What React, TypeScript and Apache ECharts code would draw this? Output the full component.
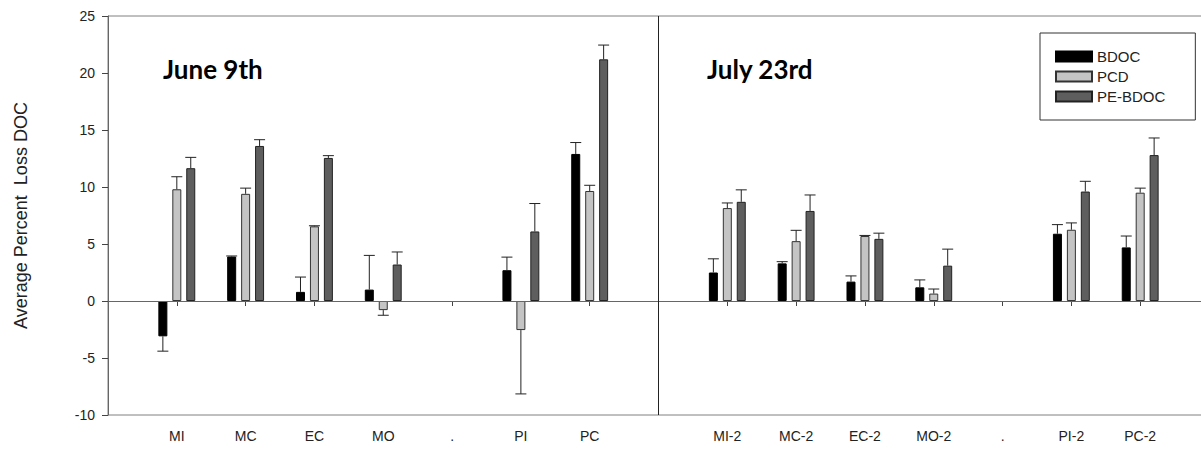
import React, { useEffect, useRef } from "react";
import * as echarts from "echarts";

// Category slots: blank slots at the left edge, the date divider and the right edge.
const categories = [
  "", "MI", "MC", "EC", "MO", ".", "PI", "PC",
  "", "MI-2", "MC-2", "EC-2", "MO-2", ".", "PI-2", "PC-2", "",
];

const seriesNames = ["BDOC", "PCD", "PE-BDOC"];

const bdoc = [null, -3.1, 3.9, 0.8, 1.0, null, 2.7, 12.9, null, 2.5, 3.3, 1.7, 1.2, null, 5.9, 4.7, null];
const bdocErr = [null, 1.3, 0.05, 1.3, 3.0, null, 1.15, 1.0, null, 1.2, 0.15, 0.5, 0.65, null, 0.8, 1.0, null];

const pcd = [null, 9.8, 9.4, 6.55, -0.8, null, -2.55, 9.65, null, 8.15, 5.25, 5.7, 0.65, null, 6.25, 9.5, null];
const pcdErr = [null, 1.1, 0.5, 0.05, 0.45, null, 5.6, 0.5, null, 0.45, 0.95, 0.05, 0.4, null, 0.6, 0.4, null];

const peBdoc = [null, 11.65, 13.6, 12.55, 3.2, null, 6.1, 21.2, null, 8.7, 7.9, 5.45, 3.1, null, 9.6, 12.8, null];
const peBdocErr = [null, 0.95, 0.55, 0.2, 1.1, null, 2.45, 1.25, null, 1.05, 1.4, 0.5, 1.45, null, 0.9, 1.5, null];

const yTicks = { min: -10, max: 25, interval: 5 };
const panelTitles = ["June 9th", "July 23rd"];
const dividerIndex = 8;

const BAR_W = 9;
const BAR_GAP = 0.55;
const fills = ["#000000", "#c4c4c4", "#5e5e5e"];
const borders = ["#000000", "#333333", "#222222"];
const FONT = "'Liberation Sans', Arial, sans-serif";

function errorSeries(values: (number | null)[], errs: (number | null)[], slot: number) {
  const data: number[][] = [];
  values.forEach((v, i) => {
    const e = errs[i];
    if (v !== null && e !== null) data.push([i, v, e]);
  });
  const step = BAR_W * (1 + BAR_GAP);
  const offset = (slot - 1) * step;
  return {
    type: "custom",
    z: 5,
    silent: true,
    encode: { x: 0, y: 1 },
    data,
    renderItem: (_params: any, api: any) => {
      const i = api.value(0);
      const v = api.value(1);
      const e = api.value(2);
      const end = v >= 0 ? v + e : v - e;
      const p0 = api.coord([i, v]);
      const p1 = api.coord([i, end]);
      const x = p0[0] + offset;
      const stroke = { stroke: "#222", lineWidth: 1 };
      return {
        type: "group",
        children: [
          { type: "line", shape: { x1: x, y1: p0[1], x2: x, y2: p1[1] }, style: stroke },
          { type: "line", shape: { x1: x - 5.5, y1: p1[1], x2: x + 5.5, y2: p1[1] }, style: stroke },
        ],
      };
    },
  };
}

// Vertical rule separating the two sampling dates, spanning the full value range.
const dividerSeries = {
  type: "custom",
  z: 6,
  silent: true,
  encode: { x: 0, y: 1 },
  data: [[dividerIndex, yTicks.min, yTicks.max]],
  renderItem: (_params: any, api: any) => {
    const i = api.value(0);
    const a = api.coord([i, api.value(1)]);
    const b = api.coord([i, api.value(2)]);
    return {
      type: "line",
      shape: { x1: a[0], y1: a[1], x2: b[0], y2: b[1] },
      style: { stroke: "#222", lineWidth: 1 },
    };
  },
};

export default function App() {
  const ref = useRef<HTMLDivElement>(null);

  useEffect(() => {
    if (!ref.current) return;
    const chart = echarts.init(ref.current, undefined, { renderer: "svg" });
    const barValues = [bdoc, pcd, peBdoc];

    const bars = seriesNames.map((name, k) => ({
      name,
      type: "bar",
      barWidth: BAR_W,
      barGap: `${BAR_GAP * 100}%`,
      itemStyle: { color: fills[k], borderColor: borders[k], borderWidth: 1 },
      data: barValues[k],
      ...(k === 0
        ? {
            markLine: {
              silent: true,
              symbol: "none",
              label: { show: false },
              animation: false,
              data: [{ yAxis: 0, lineStyle: { color: "#666", width: 1, type: "solid" } }],
            },
          }
        : {}),
    }));

    chart.setOption({
      animation: false,
      backgroundColor: "#ffffff",
      textStyle: { fontFamily: FONT },
      grid: {
        left: 108,
        top: 16,
        bottom: 34,
        right: 6,
        show: true,
        borderColor: "#808080",
        borderWidth: 1,
        containLabel: false,
      },
      legend: {
        data: seriesNames,
        orient: "vertical",
        left: 1040,
        top: 33,
        padding: [16, 30, 16, 15],
        borderColor: "#333",
        borderWidth: 1,
        itemWidth: 36,
        itemHeight: 10,
        itemGap: 5,
        itemTextGap: 9,
        icon: "rect",
        textStyle: { fontSize: 15, color: "#222", fontFamily: FONT },
      },
      xAxis: {
        type: "category",
        data: categories,
        boundaryGap: false,
        axisLine: { lineStyle: { color: "#666", width: 1 } },
        axisTick: {
          length: 5,
          lineStyle: { color: "#444" },
          interval: (_i: number, v: string) => v !== "",
        },
        axisLabel: { interval: 0, margin: 14, fontSize: 14, color: "#222", fontFamily: FONT },
        splitLine: { show: false },
      },
      yAxis: {
        type: "value",
        min: yTicks.min,
        max: yTicks.max,
        interval: yTicks.interval,
        name: "Average Percent  Loss DOC",
        nameLocation: "middle",
        nameRotate: 90,
        nameGap: 78,
        nameTextStyle: { fontSize: 18, color: "#222", fontFamily: FONT },
        axisLine: { show: true, lineStyle: { color: "#666", width: 1 } },
        axisTick: { show: true, length: 6, lineStyle: { color: "#444" } },
        axisLabel: { margin: 13, fontSize: 14, color: "#222", fontFamily: FONT },
        splitLine: { show: false },
      },
      graphic: [
        {
          type: "text",
          x: 163,
          y: 69,
          style: {
            text: panelTitles[0],
            font: "bold 26px Lato, 'Open Sans', sans-serif",
            fill: "#000",
            verticalAlign: "middle",
          },
        },
        {
          type: "text",
          x: 707,
          y: 69,
          style: {
            text: panelTitles[1],
            font: "bold 26px Lato, 'Open Sans', sans-serif",
            fill: "#000",
            verticalAlign: "middle",
          },
        },
      ],
      series: [
        ...bars,
        errorSeries(bdoc, bdocErr, 0),
        errorSeries(pcd, pcdErr, 1),
        errorSeries(peBdoc, peBdocErr, 2),
        dividerSeries,
      ],
    });

    return () => chart.dispose();
  }, []);

  return (
    <div
      ref={ref}
      style={{ position: "fixed", left: 0, top: 0, width: 1215, height: 449, background: "#fff" }}
    />
  );
}
